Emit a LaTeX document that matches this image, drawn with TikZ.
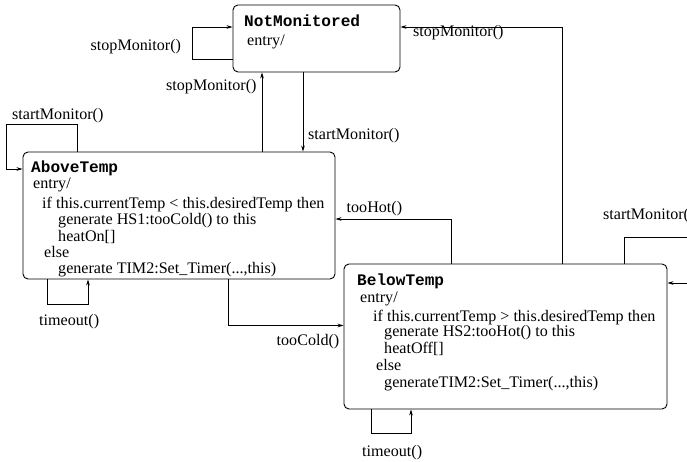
\documentclass[tikz,border=0pt]{standalone}
\usepackage{fontspec}
\setmainfont{Liberation Serif}
\setmonofont{Liberation Mono}
\usetikzlibrary{arrows.meta}

\begin{document}
\begin{tikzpicture}[x=1pt, y=-1pt,
    font=\fontsize{16.1}{16}\selectfont,
    state/.style={draw, line width=0.9pt, rounded corners=5pt, inner sep=0pt},
    txt/.style={anchor=base west, inner sep=0pt},
    ttl/.style={txt, font=\fontsize{16.1}{16}\selectfont\ttfamily\bfseries},
    arr/.style={line width=0.7pt, -{Stealth[length=6pt, width=3.6pt]}}]

  \useasboundingbox (0,0) rectangle (687,462);
  \clip (0,0) rectangle (687,462);

  % state boxes
  \node[state, minimum width=167pt, minimum height=67pt]  (NM) at (316.5,38.5) {};
  \node[state, minimum width=312pt, minimum height=127pt] (AT) at (179,215.5) {};
  \node[state, minimum width=323pt, minimum height=145pt] (BT) at (505.5,336.5) {};

  % NotMonitored contents
  \node[ttl] (nmT) at (244,27) {NotMonitored};
  \node[txt] (nmE) at (247,46) {entry/};

  % AboveTemp contents
  \node[ttl] (atT) at (31,173) {AboveTemp};
  \node[txt] (atE) at (33,189) {entry/};
  \node[txt] (at1) at (42,209) {if this.currentTemp < this.desiredTemp then};
  \node[txt] (at2) at (58,225) {generate HS1:tooCold() to this};
  \node[txt] (at3) at (58,241) {heatOn[]};
  \node[txt] (at4) at (44,257) {else};
  \node[txt] (at5) at (58,273) {generate TIM2:Set\_Timer(...,this)};

  % BelowTemp contents
  \node[ttl] (btT) at (357,285) {BelowTemp};
  \node[txt] (btE) at (360,302) {entry/};
  \node[txt] (bt1) at (373,321) {if this.currentTemp > this.desiredTemp then};
  \node[txt] (bt2) at (384,336) {generate HS2:tooHot() to this};
  \node[txt] (bt3) at (384,353) {heatOff[]};
  \node[txt] (bt4) at (376,370) {else};
  \node[txt] (bt5) at (384,387) {generateTIM2:Set\_Timer(...,this)};

  % transitions
  \draw[arr] (NM.west |- 0,59) -| (192,27) -- (NM.west |- 0,27);
  \draw[arr] (AT.north -| 262,0) -- (NM.south -| 262,0);
  \draw[arr] (NM.south -| 303,0) -- (AT.north -| 303,0);
  \draw[arr] (AT.north -| 77,0) |- (6,124) |- (AT.west |- 0,169);
  \draw[arr] (AT.south -| 47,0) |- (88,304) -- (AT.south -| 88,0);
  \draw[arr] (AT.south -| 228,0) |- (BT.west |- 0,325.5);
  \draw[arr] (BT.north -| 451,0) |- (AT.east |- 0,219);
  \draw[arr] (BT.north -| 562,0) |- (NM.east |- 0,27);
  \draw[arr] (BT.north -| 624,0) |- (700,237) |- (BT.east |- 0,283);
  \draw[arr] (BT.south -| 371,0) |- (411,433) -- (BT.south -| 411,0);

  % transition labels
  \node[txt] (l1) at (90.5,50.5) {stopMonitor()};
  \node[txt] (l2) at (166,90.5) {stopMonitor()};
  \node[txt] (l3) at (12,120) {startMonitor()};
  \node[txt] (l4) at (308,140) {startMonitor()};
  \node[txt] (l5) at (413,37) {stopMonitor()};
  \node[txt] (l6) at (346.5,212) {tooHot()};
  \node[txt] (l7) at (603,220) {startMonitor()};
  \node[txt] (l8) at (39,325) {timeout()};
  \node[txt] (l9) at (276.5,345) {tooCold()};
  \node[txt] (l10) at (362,456) {timeout()};
\end{tikzpicture}
\end{document}
